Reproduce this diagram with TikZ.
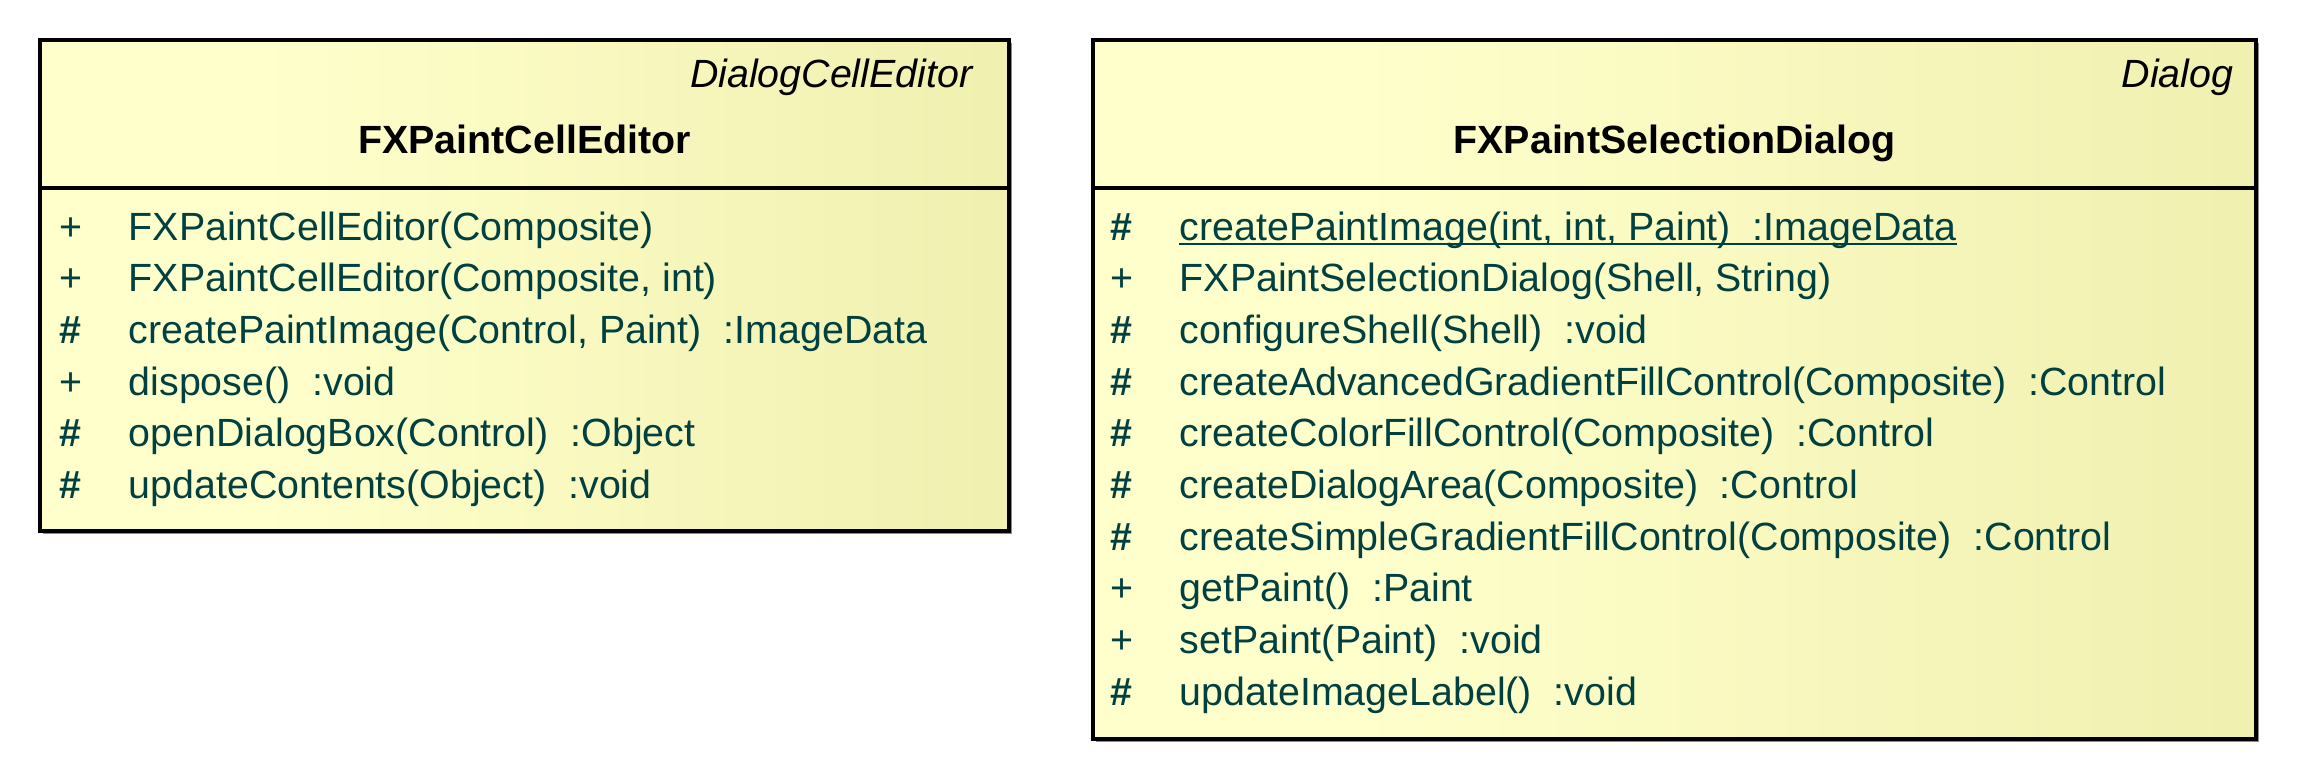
\documentclass[tikz,border=0pt]{standalone}
\usepackage{fontspec}
\setmainfont{Liberation Sans}
\usetikzlibrary{calc}
\definecolor{umllight}{RGB}{255,255,204}
\definecolor{umldark}{RGB}{230,230,158}
\definecolor{umltext}{RGB}{0,64,64}
\pgfdeclarehorizontalshading{umlfill}{100bp}{color(0bp)=(umllight); color(36bp)=(umllight); color(100bp)=(umldark)}
\def\umlsize{\fontsize{11.2}{13.4}\selectfont}
\tikzset{
	umlbox/.style={draw=black, line width=1pt, shading=umlfill},
	umlshadow/.style={fill=black!45, draw=none},
	umlsep/.style={draw=black, line width=1pt},
	vis/.style={anchor=base west, inner sep=0pt, text=umltext, font=\umlsize},
	member/.style={anchor=base west, inner sep=0pt, text=umltext, font=\umlsize},
	classname/.style={anchor=base, inner sep=0pt, font=\umlsize\bfseries},
	stereo/.style={anchor=base east, inner sep=0pt, font=\umlsize\itshape},
}

\begin{document}
\begin{tikzpicture}[x=0.1mm, y=-0.1mm]
		%%%%% START %%%%%
		\useasboundingbox (0, 0) rectangle (2300, 784);
		
		% FXPaintCellEditor
		\fill[umlshadow] (43, 43) rectangle (1012, 534);
		\draw[umlbox] (40, 40) rectangle (1009, 531);
		\draw[umlsep] (40, 188) -- (1009, 188);
		\node[stereo] (cellStereo) at (973, 87) {DialogCellEditor};
		\node[classname] (cellName) at (524.5, 153) {FXPaintCellEditor};
		
		\node[vis] (cellVis1) at (59, 240) {+};
		\node[member] (cellOp1) at (128, 240) {FXPaintCellEditor(Composite)};
		\node[vis] (cellVis2) at (59, 291.7) {+};
		\node[member] (cellOp2) at (128, 291.7) {FXPaintCellEditor(Composite, int)};
		\node[vis] (cellVis3) at (59, 343.4) {\bfseries\#};
		\node[member] (cellOp3) at (128, 343.4) {createPaintImage(Control, Paint)\ \ :ImageData};
		\node[vis] (cellVis4) at (59, 395.1) {+};
		\node[member] (cellOp4) at (128, 395.1) {dispose()\ \ :void};
		\node[vis] (cellVis5) at (59, 446.8) {\bfseries\#};
		\node[member] (cellOp5) at (128, 446.8) {openDialogBox(Control)\ \ :Object};
		\node[vis] (cellVis6) at (59, 498.5) {\bfseries\#};
		\node[member] (cellOp6) at (128, 498.5) {updateContents(Object)\ \ :void};
		
		% FXPaintSelectionDialog
		\fill[umlshadow] (1096, 43) rectangle (2259, 742);
		\draw[umlbox] (1093, 40) rectangle (2256, 739);
		\draw[umlsep] (1093, 188) -- (2256, 188);
		\node[stereo] (dlgStereo) at (2234, 87) {Dialog};
		\node[classname] (dlgName) at (1674.5, 153) {FXPaintSelectionDialog};
		
		\node[vis] (dlgVis1) at (1110, 240) {\bfseries\#};
		\node[member] (dlgOp1) at (1179, 240) {createPaintImage(int, int, Paint)\ \ :ImageData};
		\draw[umltext, line width=0.8pt] ($(dlgOp1.base west)+(0, 4)$) -- ($(dlgOp1.base east)+(0, 4)$);
		\node[vis] (dlgVis2) at (1110, 291.7) {+};
		\node[member] (dlgOp2) at (1179, 291.7) {FXPaintSelectionDialog(Shell, String)};
		\node[vis] (dlgVis3) at (1110, 343.4) {\bfseries\#};
		\node[member] (dlgOp3) at (1179, 343.4) {configureShell(Shell)\ \ :void};
		\node[vis] (dlgVis4) at (1110, 395.1) {\bfseries\#};
		\node[member] (dlgOp4) at (1179, 395.1) {createAdvancedGradientFillControl(Composite)\ \ :Control};
		\node[vis] (dlgVis5) at (1110, 446.8) {\bfseries\#};
		\node[member] (dlgOp5) at (1179, 446.8) {createColorFillControl(Composite)\ \ :Control};
		\node[vis] (dlgVis6) at (1110, 498.5) {\bfseries\#};
		\node[member] (dlgOp6) at (1179, 498.5) {createDialogArea(Composite)\ \ :Control};
		\node[vis] (dlgVis7) at (1110, 550.2) {\bfseries\#};
		\node[member] (dlgOp7) at (1179, 550.2) {createSimpleGradientFillControl(Composite)\ \ :Control};
		\node[vis] (dlgVis8) at (1110, 601.9) {+};
		\node[member] (dlgOp8) at (1179, 601.9) {getPaint()\ \ :Paint};
		\node[vis] (dlgVis9) at (1110, 653.6) {+};
		\node[member] (dlgOp9) at (1179, 653.6) {setPaint(Paint)\ \ :void};
		\node[vis] (dlgVis10) at (1110, 705.3) {\bfseries\#};
		\node[member] (dlgOp10) at (1179, 705.3) {updateImageLabel()\ \ :void};
		%%%%% END %%%%%
\end{tikzpicture}
\end{document}
